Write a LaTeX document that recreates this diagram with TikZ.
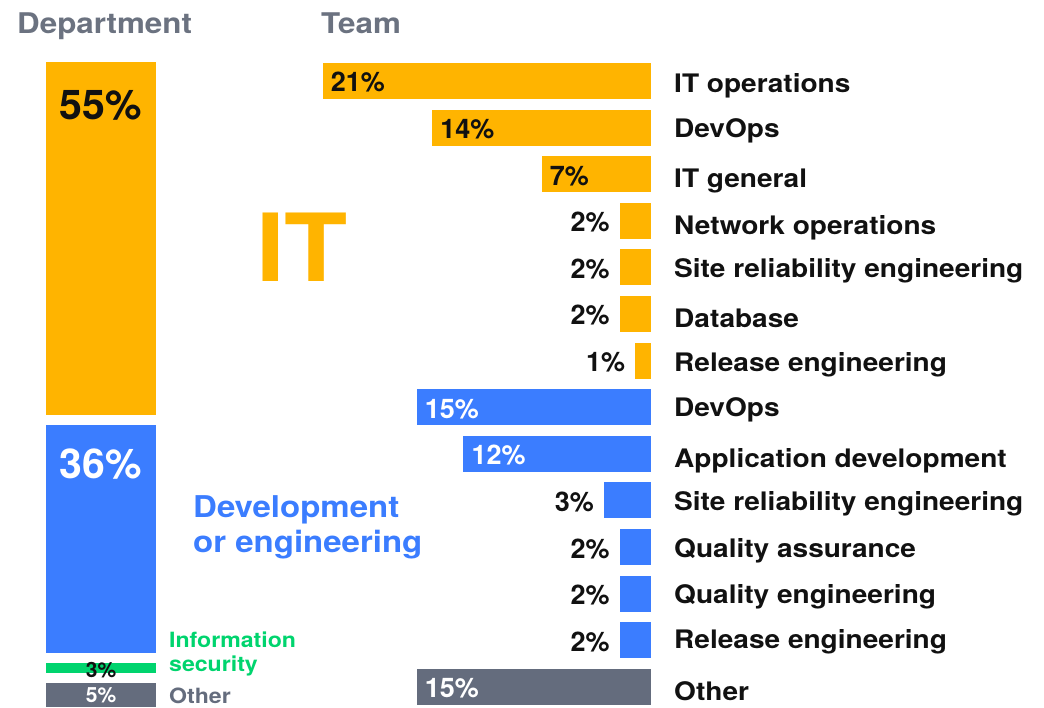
\documentclass[tikz,border=0pt]{standalone}
\usepackage{fontspec}
\setmainfont[FakeStretch=1.1]{TeX Gyre Heros}
\newfontfamily\numfont{TeX Gyre Heros}
\usetikzlibrary{positioning}
\definecolor{itcol}{HTML}{FFB400}
\definecolor{devcol}{HTML}{3B7DFF}
\definecolor{seccol}{HTML}{00D46E}
\definecolor{othcol}{HTML}{646C7D}
\definecolor{headcol}{HTML}{6B7280}
\definecolor{inkcol}{HTML}{111111}
\begin{document}
\begin{tikzpicture}[x=1pt, y=-1pt, every node/.style={inner sep=0pt}]
	\tikzstyle{head} = [anchor=base west, text=headcol, font=\fontsize{28.5}{28.5}\selectfont\bfseries]
	\tikzstyle{cat} = [anchor=base west, text=inkcol, font=\fontsize{25.5}{25.5}\selectfont\bfseries]
	\tikzstyle{pct} = [font=\numfont\fontsize{27}{27}\selectfont\bfseries]
	\tikzstyle{big} = [anchor=base, font=\numfont\fontsize{41}{41}\selectfont\bfseries]
	\tikzstyle{small} = [anchor=base, font=\numfont\fontsize{21}{21}\selectfont\bfseries]
	\useasboundingbox (0,0) rectangle (1044,708);
	% headings
	\node [head] (hdep) at (17,34) {Department};
	\node [head] (hteam) at (321,34) {Team};
	% department column
	\fill [itcol] (46,62) rectangle (156,415);
	\fill [devcol] (46,425) rectangle (156,653);
	\fill [seccol] (46,663) rectangle (156,673);
	\fill [othcol] (46,683) rectangle (156,707);
	\node [big, text=inkcol] (dit) at (101,120) {55\%};
	\node [big, text=white] (ddev) at (101,478) {36\%};
	\node [small, text=inkcol] (dsec) at (101,677) {3\%};
	\node [small, text=white] (doth) at (101,702) {5\%};
	\node [text=itcol, anchor=base west, font=\fontsize{94}{94}\selectfont\bfseries] (lit) at (256,282) {IT};
	\node [text=devcol, align=left, anchor=base west, font=\fontsize{30}{35}\selectfont\bfseries] (ldev) at (193,552) {Development\\or engineering};
	\node [text=seccol, align=left, anchor=base west, font=\fontsize{21}{24}\selectfont\bfseries] (lsec) at (169,671) {Information\\security};
	\node [text=othcol, anchor=base west, font=\fontsize{21}{21}\selectfont\bfseries] (loth) at (169,703) {Other};
	% team column
	\foreach \i/\p/\c/\t/\b/\n in {0/21/itc/inkcol/93/IT operations, 1/14/itc/inkcol/138/DevOps, 2/7/itc/inkcol/188/IT general,
		3/2/itc/inkcol/235/Network operations, 4/2/itc/inkcol/278/Site reliability engineering, 5/2/itc/inkcol/328/Database,
		6/1/itc/inkcol/372/Release engineering, 7/15/devc/white/417/DevOps, 8/12/devc/white/467/Application development,
		9/3/devc/inkcol/510/Site reliability engineering, 10/2/devc/inkcol/557/Quality assurance, 11/2/devc/inkcol/603/Quality engineering,
		12/2/devc/inkcol/648/Release engineering, 13/15/othc/white/700/Other}
	{
		\pgfmathsetmacro{\top}{63+46.6*\i}
		\pgfmathsetmacro{\lft}{651-15.63*\p}
		\fill [\c ol] (\lft,\top) rectangle (651,\top+36);
		\ifnum\p>5
			\node [pct, text=\t, anchor=base west] (p\i) at (\lft+8,\top+29) {\p\%};
		\else
			\node [pct, text=\t, anchor=base east] (p\i) at (\lft-10,\top+29) {\p\%};
		\fi
		\node [cat] (c\i) at (674,\b) {\n};
	}
\end{tikzpicture}
\end{document}
